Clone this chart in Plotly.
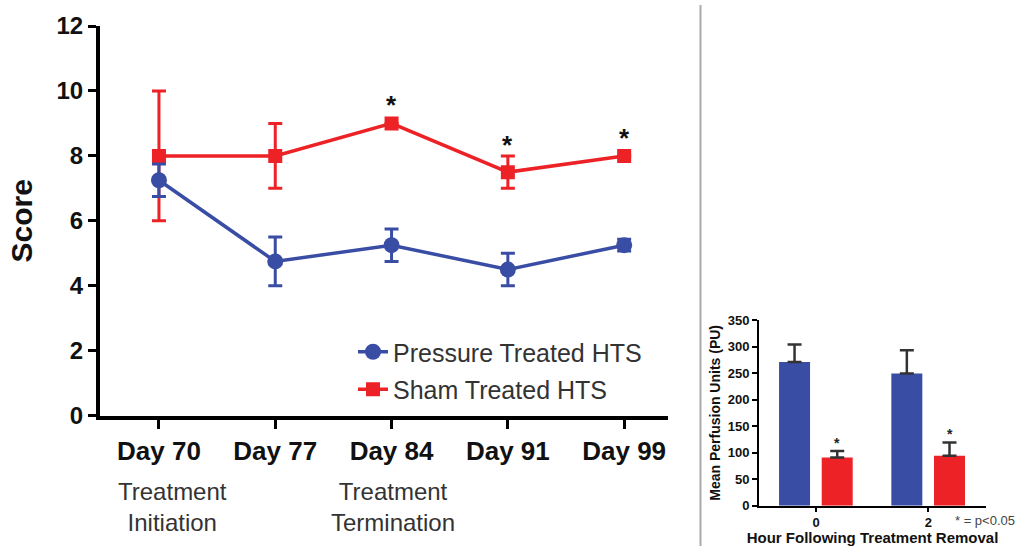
import plotly.graph_objects as go

# ---------------- data ----------------
days = ["Day 70", "Day 77", "Day 84", "Day 91", "Day 99"]
day_pos = [0, 1, 2, 3, 4]
pressure_score = [7.25, 4.75, 5.25, 4.5, 5.25]
pressure_err = [0.5, 0.75, 0.5, 0.5, 0.18]
sham_score = [8.0, 8.0, 9.0, 7.5, 8.0]
sham_err = [2.0, 1.0, 0.0, 0.5, 0.0]
star_pos = [2, 3, 4]
star_score = [9.67, 8.42, 8.64]
phase_pos = [0.12, 2.01]
phase_labels = ["Treatment<br>Initiation", "Treatment<br>Termination"]

hours = ["0", "2"]
hour_pos = [0, 1]
pressure_pu = [271, 249]
pressure_pu_err = [33, 44]
sham_pu = [91, 94]
sham_pu_err = [12, 25]
pu_star_pos = [0.19, 1.19]
pu_star_val = [124, 141]

BLUE = "#3A4DA5"
RED = "#EC2227"
FONT = "Liberation Sans, Arial, sans-serif"

fig = go.Figure()

# ---- main line chart ----
fig.add_trace(go.Scatter(
    x=day_pos, y=sham_score, mode="lines+markers", name="Sham Treated HTS",
    line=dict(color=RED, width=3.5),
    marker=dict(symbol="square", size=14, color=RED),
    error_y=dict(type="data", array=sham_err, color=RED, thickness=3, width=7),
    legendgroup="b", legendrank=2, xaxis="x", yaxis="y"))
fig.add_trace(go.Scatter(
    x=day_pos, y=pressure_score, mode="lines+markers", name="Pressure Treated HTS",
    line=dict(color=BLUE, width=3.5),
    marker=dict(symbol="circle", size=16, color=BLUE),
    error_y=dict(type="data", array=pressure_err, color=BLUE, thickness=3, width=7),
    legendgroup="a", legendrank=1, xaxis="x", yaxis="y"))

# ---- inset bar chart ----
fig.add_trace(go.Bar(
    x=hour_pos, y=pressure_pu, width=0.276, offset=-0.329,
    marker=dict(color=BLUE, line=dict(width=0)), showlegend=False,
    error_y=dict(type="data", array=pressure_pu_err, arrayminus=[0, 0], symmetric=False,
                 color="#333333", thickness=2.5, width=7),
    xaxis="x2", yaxis="y2"))
fig.add_trace(go.Bar(
    x=hour_pos, y=sham_pu, width=0.276, offset=0.051,
    marker=dict(color=RED, line=dict(width=0)), showlegend=False,
    error_y=dict(type="data", array=sham_pu_err, arrayminus=[0, 0], symmetric=False,
                 color="#333333", thickness=2.5, width=7),
    xaxis="x2", yaxis="y2"))

W, H = 1019, 546

annotations = []
for xp, yv in zip(star_pos, star_score):
    annotations.append(dict(x=xp, y=yv, xref="x", yref="y", text="<b>*</b>", showarrow=False,
                            font=dict(family=FONT, size=26, color="#111"), yshift=-3))
for xp, lab in zip(phase_pos, phase_labels):
    annotations.append(dict(x=xp, y=(H - 507) / H, xref="x", yref="paper", text=lab,
                            showarrow=False, yanchor="middle",
                            font=dict(family=FONT, size=24, color="#333")))
for xp, yv in zip(pu_star_pos, pu_star_val):
    annotations.append(dict(x=xp, y=yv, xref="x2", yref="y2", text="<b>*</b>", showarrow=False,
                            font=dict(family=FONT, size=14, color="#222"), yshift=-3))
annotations.append(dict(x=1017 / W, y=(H - 520) / H, xref="paper", yref="paper",
                        xanchor="right", yanchor="middle",
                        text="* = p<0.05", showarrow=False,
                        font=dict(family=FONT, size=13, color="#444")))

fig.update_layout(
    width=W, height=H, margin=dict(l=0, r=0, t=0, b=0, autoexpand=False),
    paper_bgcolor="white", plot_bgcolor="white",
    font=dict(family=FONT, color="#111"),
    showlegend=True,
    legend=dict(x=353 / W, y=(H - 329) / H, xanchor="left", yanchor="top",
                bgcolor="rgba(0,0,0,0)", tracegroupgap=2,
                font=dict(family=FONT, size=25, color="#333")),
    xaxis=dict(domain=[100 / W, 668 / W], range=[-0.507, 4.377], automargin=False,
               tickmode="array", tickvals=day_pos, ticktext=days,
               showgrid=False, zeroline=False, showline=True, linecolor="#000", linewidth=4,
               ticks="outside", ticklen=9, tickwidth=3, tickcolor="#000",
               tickfont=dict(family=FONT, size=26, color="#111", weight="bold")),
    yaxis=dict(domain=[(H - 415.7) / H, (H - 26) / H], range=[0, 12], automargin=False,
               tickvals=[0, 2, 4, 6, 8, 10, 12],
               showgrid=False, zeroline=False, showline=True, linecolor="#000", linewidth=4,
               ticks="outside", ticklen=8, tickwidth=3, tickcolor="#000",
               tickfont=dict(family=FONT, size=24, color="#111", weight="bold"),
               title=dict(text="<b>Score</b>", standoff=16,
                          font=dict(family=FONT, size=30, color="#111"))),
    xaxis2=dict(domain=[759 / W, 986 / W], range=[-0.5076, 1.514], anchor="y2", automargin=False,
                tickmode="array", tickvals=hour_pos, ticktext=hours,
                showgrid=False, zeroline=False, showline=True, linecolor="#000", linewidth=2,
                ticks="outside", ticklen=4, tickwidth=2, tickcolor="#000",
                tickfont=dict(family=FONT, size=13, color="#111", weight="bold"),
                title=dict(text="<b>Hour Following Treatment Removal</b>", standoff=0,
                           font=dict(family=FONT, size=15, color="#111"))),
    yaxis2=dict(domain=[(H - 505.7) / H, (H - 320) / H], range=[0, 350], anchor="x2",
                automargin=False,
                tickvals=[0, 50, 100, 150, 200, 250, 300, 350],
                showgrid=False, zeroline=False, showline=True, linecolor="#000", linewidth=2,
                ticks="outside", ticklen=5, tickwidth=2, tickcolor="#000",
                tickfont=dict(family=FONT, size=13, color="#111", weight="bold"),
                title=dict(text="<b>Mean Perfusion Units (PU)</b>", standoff=4,
                           font=dict(family=FONT, size=14, color="#111"))),
    shapes=[dict(type="line", xref="paper", yref="paper", x0=700.5 / W, x1=700.5 / W,
                 y0=0, y1=(H - 5) / H, line=dict(color="#AAAAAA", width=2))],
    annotations=annotations,
)

fig.write_html("out.html")
